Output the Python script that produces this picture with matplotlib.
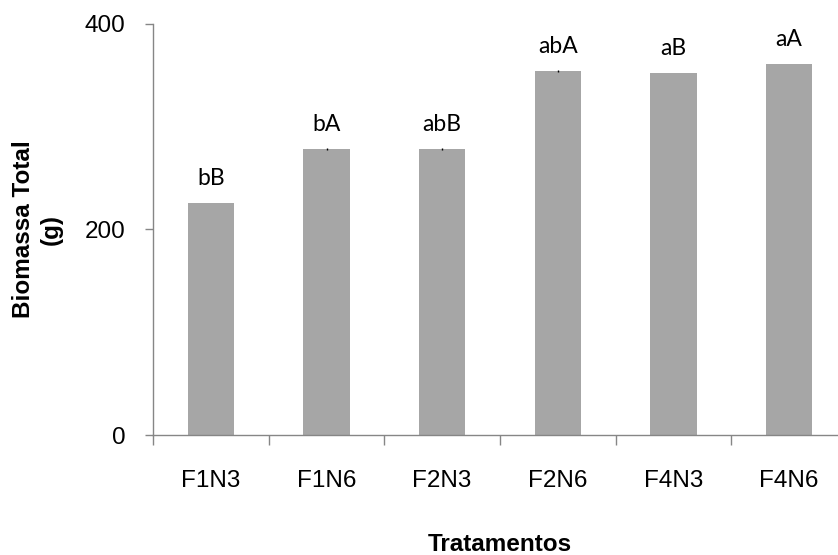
import matplotlib
matplotlib.use('Agg')
import matplotlib.pyplot as plt
import numpy as np

tratamentos = ['F1N3', 'F1N6', 'F2N3', 'F2N6', 'F4N3', 'F4N6']
biomassa = [226, 278, 278, 354, 352, 361]
erro = [0, 1, 1, 1, 0, 0]
letras = ['bB', 'bA', 'abB', 'abA', 'aB', 'aA']

cinza = '#a6a6a6'
eixo = '#868686'

fig = plt.figure(figsize=(8.38, 5.55), dpi=100)
ax = fig.add_axes([153 / 838, 120 / 555, 694 / 838, 411 / 555])

x = np.arange(len(tratamentos))
ax.bar(x, biomassa, width=0.4, color=cinza, yerr=erro, ecolor='black',
       error_kw={'elinewidth': 1, 'capsize': 0})

for xi, v, txt in zip(x, biomassa, letras):
    ax.annotate(txt, (xi, v), xytext=(0, 13), textcoords='offset points',
                ha='center', va='baseline', fontsize=16.5, family='Lato')

ax.set_xlim(-0.5, len(tratamentos) - 0.5)
ax.set_ylim(0, 400)
ax.set_yticks([0, 200, 400])

# ticks at category edges, labels at centers
ax.set_xticks(np.arange(len(tratamentos) + 1) - 0.5)
ax.set_xticklabels([])
ax.set_xticks(x, minor=True)
ax.set_xticklabels(tratamentos, minor=True)
ax.tick_params(axis='x', which='major', direction='out', length=7,
               color=eixo, width=1)
ax.tick_params(axis='x', which='minor', length=0, pad=25,
               labelsize=17.5)
ax.tick_params(axis='y', direction='out', length=6, color=eixo, width=1,
               pad=14, labelsize=17.5)

for lab in ax.get_xticklabels(minor=True) + ax.get_yticklabels():
    lab.set_family('Liberation Sans')

for s in ['top', 'right']:
    ax.spines[s].set_visible(False)
for s in ['left', 'bottom']:
    ax.spines[s].set_color(eixo)
    ax.spines[s].set_linewidth(1)

ax.set_ylabel('Biomassa Total\n(g)', fontsize=17.5, fontweight='bold',
              family='Liberation Sans', linespacing=1.3)
ax.yaxis.set_label_coords(-90 / 694, 0.5)
ax.set_xlabel('Tratamentos', fontsize=17.5, fontweight='bold',
              family='Liberation Sans')
ax.xaxis.set_label_coords(0.5, -98 / 411)

fig.savefig('out.png', dpi=100)
